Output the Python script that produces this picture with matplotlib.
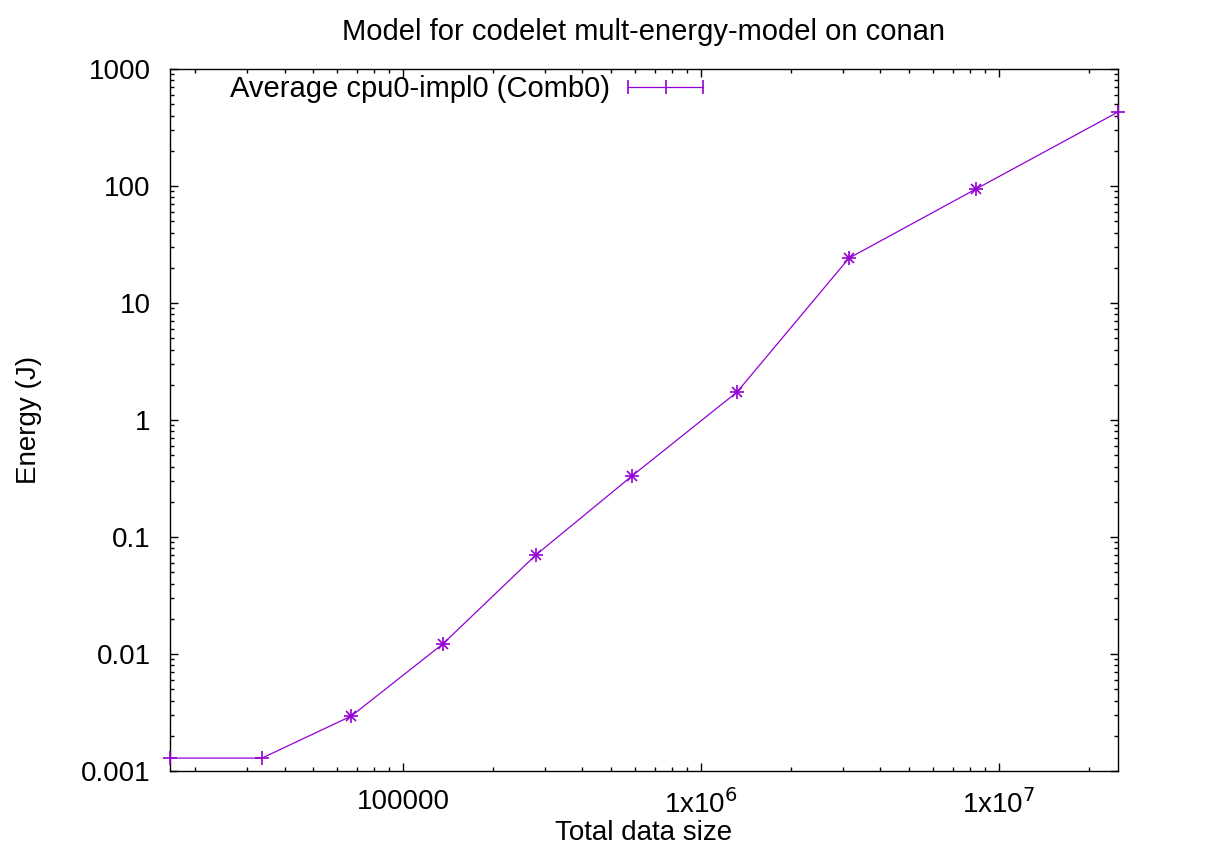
import matplotlib
matplotlib.use("Agg")
import matplotlib.pyplot as plt
from matplotlib.lines import Line2D
from matplotlib.legend_handler import HandlerLine2D, HandlerTuple
from matplotlib.ticker import FixedLocator, FixedFormatter, LogLocator, NullFormatter

plt.rcParams['font.family'] = ['Liberation Sans', 'DejaVu Sans']

# values
data_size = [16500, 33600, 67000, 136000, 279000, 586000, 1.32e6, 3.14e6, 8.37e6, 2.51e7]
energy = [0.00129, 0.00129, 0.00295, 0.0122, 0.0702, 0.332, 1.73, 24.2, 94.2, 429]
xtick_vals = [1e5, 1e6, 1e7]
xtick_labels = ['100000', r'1x10$^{6}$', r'1x10$^{7}$']
ytick_vals = [0.001, 0.01, 0.1, 1, 10, 100, 1000]
ytick_labels = ['0.001', '0.01', '0.1', '1', '10', '100', '1000']

purple = '#9400d3'
fs = 20

fig = plt.figure(figsize=(12.27, 8.48), dpi=100)
ax = fig.add_axes([170 / 1227, 1 - 771 / 848, 948 / 1227, 702 / 848])

ax.plot(data_size, energy, color=purple, lw=0.9, marker='+', ms=10, mew=1.2,
        clip_on=False, zorder=3)
ax.plot(data_size[2:-1], energy[2:-1], ls='none', color=purple, marker='x',
        ms=6.5, mew=1.2, clip_on=False, zorder=3)

ax.set_xscale('log')
ax.set_yscale('log')
ax.set_xlim(data_size[0], data_size[-1])
ax.set_ylim(0.001, 1000)

ax.xaxis.set_major_locator(FixedLocator(xtick_vals))
ax.xaxis.set_major_formatter(FixedFormatter(xtick_labels))
ax.yaxis.set_major_locator(FixedLocator(ytick_vals))
ax.yaxis.set_major_formatter(FixedFormatter(ytick_labels))
for axis in (ax.xaxis, ax.yaxis):
    axis.set_minor_locator(LogLocator(base=10, subs=range(2, 10), numticks=20))
    axis.set_minor_formatter(NullFormatter())

ax.tick_params(which='both', direction='in', top=True, right=True,
               width=1, color='black', labelsize=fs)
ax.tick_params(which='major', length=6, pad=14)
ax.tick_params(which='minor', length=3)
ax.tick_params(axis='x', pad=13)
for sp in ax.spines.values():
    sp.set_linewidth(1)

ax.set_title('Model for codelet mult-energy-model on conan', fontsize=21, pad=21)
ax.set_xlabel('Total data size', fontsize=fs, labelpad=1)
ax.set_ylabel('Energy (J)', fontsize=fs, labelpad=28)

# legend sample: line with end caps and a tick in the middle
caps = Line2D([], [], color=purple, lw=0.9, marker='|', ms=10, mew=1.2)
point = Line2D([], [], color=purple, ls='none', marker='|', ms=10, mew=1.2)
ax.legend([(caps, point)], ['Average cpu0-impl0 (Comb0)'],
          handler_map={tuple: HandlerTuple(ndivide=1, pad=0),
                       caps: HandlerLine2D(numpoints=2, marker_pad=0),
                       point: HandlerLine2D(numpoints=1)},
          loc='center left', bbox_to_anchor=(60 / 948, 1 - 20 / 702),
          frameon=False, markerfirst=False, fontsize=21, handlelength=2.57,
          handletextpad=0.62, borderpad=0, borderaxespad=0)

fig.savefig('out.png', dpi=100)
